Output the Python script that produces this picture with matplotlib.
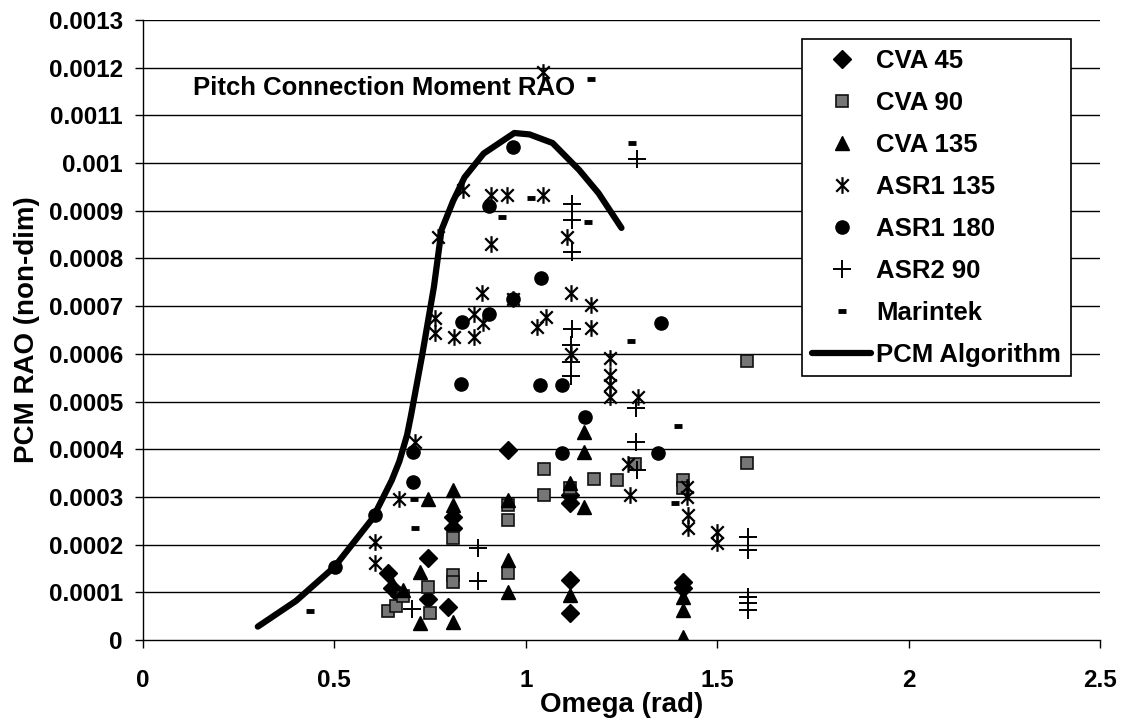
import matplotlib.pyplot as plt
import numpy as np
from matplotlib.path import Path

plt.rcParams['font.family'] = ['Liberation Sans', 'DejaVu Sans']
plt.rcParams['font.weight'] = 'bold'

# CVA model tests, heading 45 / 90 / 135
cva45_x = [0.64, 0.65, 0.67, 0.745, 0.745, 0.797, 0.81, 0.81, 0.953, 1.115, 1.115, 1.115, 1.115, 1.41, 1.41]
cva45_y = [1.40e-4, 1.10e-4, 0.95e-4, 1.71e-4, 0.85e-4, 0.69e-4, 2.58e-4, 2.34e-4, 3.98e-4,
           3.04e-4, 2.88e-4, 1.26e-4, 0.56e-4, 1.22e-4, 1.10e-4]

cva90_x = [0.64, 0.66, 0.68, 0.745, 0.75, 0.81, 0.81, 0.81, 0.953, 0.953, 0.953, 1.048, 1.048,
           1.115, 1.178, 1.238, 1.285, 1.41, 1.41, 1.578, 1.578]
cva90_y = [0.60e-4, 0.72e-4, 0.92e-4, 1.11e-4, 0.57e-4, 2.13e-4, 1.36e-4, 1.22e-4, 2.84e-4, 2.52e-4,
           1.40e-4, 3.58e-4, 3.04e-4, 3.19e-4, 3.37e-4, 3.35e-4, 3.70e-4, 3.35e-4, 3.19e-4, 3.72e-4, 5.85e-4]

cva135_x = [0.65, 0.68, 0.724, 0.724, 0.745, 0.81, 0.81, 0.81, 0.953, 0.953, 0.953, 1.115, 1.115,
            1.152, 1.152, 1.152, 1.41, 1.41, 1.41]
cva135_y = [1.20e-4, 1.05e-4, 1.43e-4, 0.36e-4, 2.96e-4, 3.14e-4, 2.84e-4, 0.38e-4, 2.93e-4, 1.68e-4,
            1.01e-4, 3.29e-4, 0.94e-4, 4.37e-4, 3.94e-4, 2.79e-4, 0.90e-4, 0.63e-4, 0.07e-4]

# ASR runs
asr1_135_x = [0.606, 0.606, 0.669, 0.711, 0.763, 0.763, 0.771, 0.813, 0.836, 0.865, 0.865, 0.886, 0.888,
              0.908, 0.908, 0.95, 0.967, 1.029, 1.045, 1.045, 1.053, 1.107, 1.118, 1.118, 1.17, 1.17,
              1.22, 1.22, 1.22, 1.22, 1.268, 1.272, 1.293, 1.42, 1.42, 1.425, 1.425, 1.50, 1.50]
asr1_135_y = [2.06e-4, 1.61e-4, 2.96e-4, 4.15e-4, 6.75e-4, 6.44e-4, 8.45e-4, 6.35e-4, 9.43e-4, 6.83e-4,
              6.35e-4, 7.27e-4, 6.64e-4, 9.33e-4, 8.30e-4, 9.33e-4, 7.14e-4, 6.56e-4, 9.33e-4, 11.9e-4,
              6.77e-4, 8.45e-4, 7.27e-4, 6.00e-4, 7.02e-4, 6.54e-4, 5.91e-4, 5.56e-4, 5.35e-4, 5.10e-4,
              3.70e-4, 3.04e-4, 5.10e-4, 3.20e-4, 3.00e-4, 2.62e-4, 2.35e-4, 2.27e-4, 2.03e-4]

asr1_180_x = [0.502, 0.606, 0.706, 0.706, 0.831, 0.833, 0.904, 0.904, 0.967, 0.967, 1.037, 1.04,
              1.094, 1.094, 1.155, 1.345, 1.353]
asr1_180_y = [1.53e-4, 2.62e-4, 3.94e-4, 3.31e-4, 5.37e-4, 6.67e-4, 9.10e-4, 6.83e-4, 10.34e-4, 7.14e-4,
              5.35e-4, 7.59e-4, 5.35e-4, 3.91e-4, 4.67e-4, 3.91e-4, 6.64e-4]

asr2_90_x = [0.703, 0.875, 0.875, 1.12, 1.12, 1.12, 1.12, 1.118, 1.118, 1.118, 1.288, 1.288, 1.29,
             1.29, 1.58, 1.58, 1.58, 1.58, 1.58]
asr2_90_y = [0.65e-4, 1.93e-4, 1.24e-4, 9.14e-4, 8.80e-4, 8.13e-4, 6.52e-4, 6.18e-4, 5.83e-4, 5.53e-4,
             4.86e-4, 4.15e-4, 3.56e-4, 10.08e-4, 2.16e-4, 1.89e-4, 0.90e-4, 0.77e-4, 0.62e-4]

marintek_x = [0.436, 0.708, 0.711, 0.937, 1.013, 1.163, 1.17, 1.275, 1.277, 1.39, 1.398]
marintek_y = [0.61e-4, 2.96e-4, 2.35e-4, 8.87e-4, 9.27e-4, 8.77e-4, 11.76e-4, 6.27e-4, 10.42e-4,
              2.87e-4, 4.49e-4]

# PCM algorithm prediction
pcm_x = [0.30, 0.40, 0.50, 0.60, 0.65, 0.67, 0.69, 0.70, 0.73, 0.76, 0.78, 0.81, 0.84, 0.89, 0.97,
         1.01, 1.07, 1.14, 1.19, 1.25]
pcm_y = [0.28e-4, 0.82e-4, 1.53e-4, 2.55e-4, 3.35e-4, 3.75e-4, 4.30e-4, 4.70e-4, 6.00e-4, 7.40e-4,
         8.60e-4, 9.20e-4, 9.70e-4, 10.20e-4, 10.63e-4, 10.60e-4, 10.42e-4, 9.85e-4, 9.37e-4, 8.64e-4]

x_ticks = [0, 0.5, 1, 1.5, 2, 2.5]
x_labels = ['0', '0.5', '1', '1.5', '2', '2.5']
y_ticks = np.arange(14) * 1e-4
y_labels = ['0', '0.0001', '0.0002', '0.0003', '0.0004', '0.0005', '0.0006', '0.0007',
            '0.0008', '0.0009', '0.001', '0.0011', '0.0012', '0.0013']

# excel style asterisk: X with a vertical bar
star = Path([(0, -1), (0, 1), (-0.75, -0.75), (0.75, 0.75), (-0.75, 0.75), (0.75, -0.75)],
            [Path.MOVETO, Path.LINETO] * 3)

fig = plt.figure(figsize=(11.24, 7.26), dpi=100)
ax = fig.add_axes([0.1272, 0.1185, 0.8514, 0.854])

for y in y_ticks[1:]:
    ax.axhline(y, color='black', lw=1.0, zorder=0)

ax.plot(cva45_x, cva45_y, ls='none', marker='D', ms=9, color='black', label='CVA 45')
ax.plot(cva90_x, cva90_y, ls='none', marker='s', ms=8.5, mfc='#767676', mec='#111111', mew=1.2,
        label='CVA 90')
ax.plot(cva135_x, cva135_y, ls='none', marker='^', ms=9.5, color='black', label='CVA 135')
ax.plot(asr1_135_x, asr1_135_y, ls='none', marker=star, ms=12, mfc='none', mec='black', mew=1.6,
        label='ASR1 135')
ax.plot(asr1_180_x, asr1_180_y, ls='none', marker='o', ms=9.5, color='black', label='ASR1 180')
ax.plot(asr2_90_x, asr2_90_y, ls='none', marker='+', ms=13, mew=1.4, color='black', label='ASR2 90')
ax.plot(marintek_x, marintek_y, ls='none', marker='_', ms=6, mew=3.5, color='black', label='Marintek')
ax.plot(pcm_x, pcm_y, color='black', lw=4.5, solid_capstyle='round', solid_joinstyle='round',
        label='PCM Algorithm')

ax.text(0.13, 11.57e-4, 'Pitch Connection Moment RAO', fontsize=18.5, fontweight='bold',
        va='center', ha='left')

ax.set_xlim(0, 2.5)
ax.set_ylim(0, 0.0013)
ax.set_xticks(x_ticks, labels=x_labels)
ax.set_yticks(y_ticks, labels=y_labels)
ax.tick_params(axis='both', direction='out', length=6, width=1, labelsize=17.5, colors='black')
ax.tick_params(axis='x', pad=15)
ax.tick_params(axis='y', pad=8.5)
ax.spines['top'].set_visible(False)
ax.spines['right'].set_visible(False)
ax.spines['left'].set_linewidth(1)
ax.spines['bottom'].set_linewidth(1)

ax.set_xlabel('Omega (rad)', fontsize=20, fontweight='bold', labelpad=0)
ax.set_ylabel('PCM RAO (non-dim)', fontsize=20, fontweight='bold', labelpad=6)

leg = ax.legend(loc='upper right', bbox_to_anchor=(0.9697, 0.9694), borderaxespad=0,
                fontsize=18.5, frameon=True, fancybox=False, edgecolor='black',
                framealpha=1, handlelength=2.3, handletextpad=0.2, labelspacing=0.7,
                borderpad=0.38, numpoints=1)
leg.get_frame().set_linewidth(1.2)

fig.savefig('out.png', dpi=100)
